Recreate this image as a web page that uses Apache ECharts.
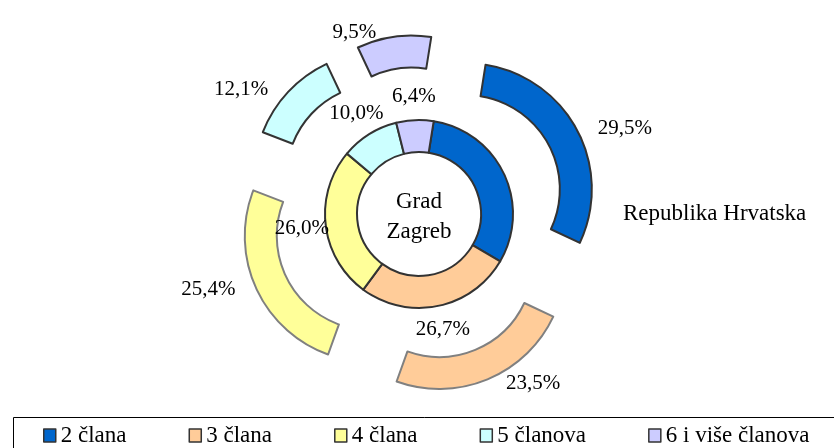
<!DOCTYPE html>
<html>
<head>
<meta charset="utf-8">
<script src="https://cdn.jsdelivr.net/npm/echarts@6/dist/echarts.min.js"></script>
<style>
  html, body { margin: 0; padding: 0; background: #fff; }
  #chart { width: 834px; height: 448px; }
</style>
</head>
<body>
<div id="chart"></div>
<script>
// kategorije kućanstava prema broju članova
const categories = ['2 člana', '3 člana', '4 člana', '5 članova', '6 i više članova'];
// unutarnji prsten - Grad Zagreb (%)
const zagrebValues = [30.9, 26.7, 26.0, 10.0, 6.4];
// vanjski prsten - Republika Hrvatska (%)
const hrvatskaValues = [29.5, 23.5, 25.4, 12.1, 9.5];

const colorList = ['#0066CC', '#FFCC99', '#FFFF99', '#CCFFFF', '#CCCCFF'];
const outerBorder = ['#333', '#808080', '#808080', '#333', '#333'];
const FONT = '"Liberation Serif", "Times New Roman", serif';
const CENTER = [419, 214];
const START = 81; // prvi isječak počinje malo desno od vrha

const fmt = v => v.toFixed(1).replace('.', ',') + '%';

const myChart = echarts.init(document.getElementById('chart'));

const pctLabel = {
    color: '#000',
    fontSize: 21,
    fontFamily: FONT,
    formatter: p => fmt(p.value)
};

const innerData = categories.map((name, i) => ({
    name: name,
    value: zagrebValues[i],
    itemStyle: { color: colorList[i] }
}));

const outerData = categories.map((name, i) => ({
    name: name,
    value: hrvatskaValues[i],
    selected: true,
    itemStyle: { color: colorList[i], borderColor: outerBorder[i] }
}));

const option = {
    animation: false,
    color: colorList,
    legend: {
        left: 43,
        top: 424,
        padding: 0,
        icon: 'rect',
        itemWidth: 12,
        itemHeight: 13,
        itemGap: 62,
        selectedMode: false,
        itemStyle: { borderColor: '#333', borderWidth: 1.5 },
        textStyle: { fontSize: 23, fontFamily: FONT, color: '#000' },
        data: categories
    },
    graphic: [
        {
            type: 'rect',
            shape: { x: 13.5, y: 417.5, width: 840, height: 60 },
            style: { fill: 'none', stroke: '#000', lineWidth: 1 },
            silent: true
        },
        {
            type: 'text',
            x: CENTER[0],
            y: 217,
            style: {
                text: 'Grad\nZagreb',
                font: '23px ' + FONT,
                lineHeight: 30,
                fill: '#000',
                align: 'center',
                verticalAlign: 'middle'
            },
            silent: true
        },
        {
            type: 'text',
            x: 623,
            y: 214,
            style: {
                text: 'Republika Hrvatska',
                font: '23px ' + FONT,
                fill: '#000',
                align: 'left',
                verticalAlign: 'middle'
            },
            silent: true
        }
    ],
    series: [
        {
            name: 'Grad Zagreb',
            type: 'pie',
            center: CENTER,
            radius: [62, 94],
            startAngle: START,
            silent: true,
            emphasis: { disabled: true },
            itemStyle: { borderColor: '#333', borderWidth: 2 },
            label: { show: false },
            labelLine: { show: false },
            data: innerData
        },
        {
            name: 'Republika Hrvatska',
            type: 'pie',
            center: CENTER,
            radius: [94, 126],
            startAngle: START,
            selectedMode: 'multiple',
            selectedOffset: 53,
            avoidLabelOverlap: false,
            emphasis: { disabled: true },
            select: { itemStyle: { borderWidth: 2 } },
            itemStyle: { borderWidth: 2 },
            label: Object.assign({ show: true, position: 'outside', distanceToLabelLine: 5 }, pctLabel),
            labelLine: { show: false, length: 4, length2: 12 },
            data: outerData
        },
        // prozirni prsten samo za oznake unutarnjeg prstena
        {
            type: 'pie',
            center: CENTER,
            radius: [105, 125],
            startAngle: START,
            silent: true,
            emphasis: { disabled: true },
            itemStyle: { color: 'transparent', borderWidth: 0 },
            label: Object.assign({ show: true, position: 'inside' }, pctLabel),
            labelLine: { show: false },
            data: categories.map((name, i) => ({ name: name, value: zagrebValues[i] })),
            z: 5
        }
    ]
};

myChart.setOption(option);
</script>
</body>
</html>
